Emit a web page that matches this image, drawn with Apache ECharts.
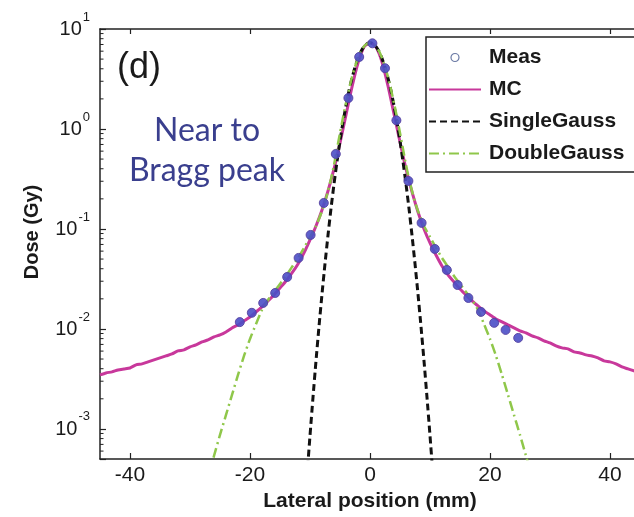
<!DOCTYPE html>
<html><head><meta charset="utf-8">
<script src="https://cdn.jsdelivr.net/npm/echarts@6/dist/echarts.min.js"></script>
<style>html,body{margin:0;padding:0;background:#fff}#c{width:634px;height:517px}</style>
</head><body><div id="c"></div>
<script>
// ---- data ----
const xTickValues = [-40, -20, 0, 20, 40];
const yMinorTicks = [0.0006,0.0007,0.0008,0.0009,
  0.002,0.003,0.004,0.005,0.006,0.007,0.008,0.009,
  0.02,0.03,0.04,0.05,0.06,0.07,0.08,0.09,
  0.2,0.3,0.4,0.5,0.6,0.7,0.8,0.9,
  2,3,4,5,6,7,8,9];

const measX = [-21.7,-19.7,-17.8,-15.8,-13.8,-11.9,-9.9,-7.7,-5.7,-3.6,-1.8,0.4,2.5,4.4,6.4,8.6,10.8,12.8,14.6,16.4,18.5,20.7,22.6,24.7];
const measY = [0.0117,0.0145,0.0182,0.0229,0.0331,0.0513,0.0871,0.182,0.562,2.04,5.25,7.19,4.05,1.22,0.302,0.115,0.0631,0.0389,0.0275,0.0204,0.0148,0.0115,0.00977,0.00813];

const mcX = [-45,-44,-43,-42,-41,-40,-39,-38,-37,-36,-35,-34,-33,-32,-31,-30,-29,-28,-27,-26,-25,-24,-23,-22,-21,-20,-19,-18,-17,-16,-15,-14,-13,-12,-11,-10,-9,-8,-7,-6,-5,-4,-3,-2,-1,0,1,2,3,4,5,6,7,8,9,10,11,12,13,14,15,16,17,18,19,20,21,22,23,24,25,26,27,28,29,30,31,32,33,34,35,36,37,38,39,40,41,42,43,44,45];
const mcY = [0.00347,0.00363,0.00372,0.00389,0.00398,0.00407,0.00437,0.00447,0.00468,0.00490,0.00513,0.00537,0.00562,0.00603,0.00617,0.00661,0.00692,0.00741,0.00776,0.00832,0.00871,0.00933,0.01023,0.01096,0.01202,0.01318,0.01479,0.01660,0.01905,0.02188,0.02570,0.03020,0.03631,0.04467,0.05754,0.07762,0.1072,0.1549,0.2399,0.3981,0.7244,1.380,2.630,4.571,6.607,7.33,6.607,4.677,2.692,1.413,0.7413,0.3981,0.2344,0.1479,0.1000,0.07244,0.05495,0.04266,0.03467,0.02951,0.02512,0.02188,0.01905,0.01698,0.01514,0.01380,0.01259,0.01175,0.01096,0.01023,0.00955,0.00912,0.00851,0.00813,0.00759,0.00724,0.00676,0.00646,0.00631,0.00589,0.00575,0.00550,0.00537,0.00513,0.00479,0.00468,0.00447,0.00417,0.00398,0.00380,0.00363];

const sgX = [-10.4,-10,-9.5,-9,-8.5,-8,-7.5,-7,-6.5,-6,-5.5,-5,-4.5,-4,-3.5,-3,-2.5,-2,-1.5,-1,-0.5,0,0.5,1,1.5,2,2.5,3,3.5,4,4.5,5,5.5,6,6.5,7,7.5,8,8.5,9,9.5,10,10.4];
const sgY = [0.00041,0.000857,0.00207,0.00479,0.01057,0.0223,0.0449,0.0865,0.160,0.281,0.472,0.759,1.167,1.71,2.41,3.23,4.14,5.08,5.96,6.67,7.13,7.30,7.13,6.67,5.96,5.08,4.14,3.23,2.41,1.71,1.167,0.759,0.472,0.281,0.160,0.0865,0.0449,0.0223,0.01057,0.00479,0.00207,0.000857,0.00041];

const dgX = [-27,-26,-25,-24,-23,-22,-21,-20,-19,-18,-17,-16,-15,-14,-13,-12,-11,-10,-9,-8,-7.5,-7,-6.5,-6,-5.5,-5,-4.5,-4,-3.5,-3,-2.5,-2,-1.5,-1,-0.5,0,0.5,1,1.5,2,2.5,3,3.5,4,4.5,5,5.5,6,6.5,7,7.5,8,9,10,11,12,13,14,15,16,17,18,19,20,21,22,23,24,25,26,27];
const dgY = [0.000331,0.000537,0.000871,0.00138,0.00219,0.00347,0.00537,0.00794,0.0112,0.0155,0.0195,0.0234,0.0282,0.0339,0.0417,0.0513,0.0646,0.0832,0.107,0.151,0.186,0.240,0.316,0.437,0.631,0.912,1.30,1.82,2.48,3.31,4.18,5.13,6.00,6.70,7.12,7.30,7.12,6.70,6.00,5.13,4.18,3.31,2.48,1.82,1.30,0.912,0.631,0.437,0.316,0.240,0.186,0.151,0.107,0.0832,0.0646,0.0513,0.0417,0.0339,0.0282,0.0234,0.0195,0.0155,0.0112,0.00794,0.00537,0.00347,0.00219,0.00138,0.000871,0.000537,0.000331];

// ---- chart ----
const FONT = 'Liberation Sans, Arial, sans-serif';
const pair = (xs, ys) => xs.map((x, i) => [x, ys[i]]);
const chart = echarts.init(document.getElementById('c'), null, {renderer: 'canvas'});
const hideSym = {opacity: 0};

const option = {
  animation: false,
  backgroundColor: '#fff',
  grid: {left: 100, top: 29, width: 540, height: 430, outerBoundsMode: 'none', containLabel: false},
  xAxis: [{
    type: 'value', min: -45, max: 45, position: 'bottom',
    axisLine: {onZero: false, lineStyle: {color: '#222', width: 1.5}},
    axisTick: {inside: true, length: 6, customValues: xTickValues, lineStyle: {color: '#222', width: 1.2}},
    axisLabel: {customValues: xTickValues, margin: 6, fontSize: 21, color: '#1a1a1a', fontFamily: FONT},
    splitLine: {show: false},
    name: 'Lateral position (mm)', nameLocation: 'middle', nameGap: 31,
    nameTextStyle: {fontSize: 21, fontWeight: 'bold', color: '#1a1a1a', fontFamily: FONT}
  }, {
    type: 'value', min: -45, max: 45, position: 'top',
    axisLine: {onZero: false, lineStyle: {color: '#222', width: 1.5}},
    axisTick: {inside: true, length: 5, customValues: xTickValues, lineStyle: {color: '#222', width: 1.2}},
    axisLabel: {show: false}, splitLine: {show: false}
  }],
  yAxis: [{
    type: 'log', min: 0.0005, max: 10, logBase: 10,
    axisLine: {show: true, onZero: false, lineStyle: {color: '#222', width: 1.5}},
    axisTick: {inside: true, length: 6, lineStyle: {color: '#222', width: 1.2}},
    splitLine: {show: false},
    axisLabel: {
      margin: 10, color: '#1a1a1a', fontFamily: FONT,
      formatter: function (v) {
        const l = Math.log10(v); const e = Math.round(l);
        if (Math.abs(l - e) > 1e-6) return '';
        return '{b|10}{s|' + e + '}';
      },
      rich: {
        b: {fontSize: 20, fontFamily: FONT, color: '#1a1a1a', verticalAlign: 'bottom', padding: [0, 0, 8, 0]},
        s: {fontSize: 13, fontFamily: FONT, color: '#1a1a1a', verticalAlign: 'bottom', padding: [0, 0, 24, 1]}
      }
    },
    name: 'Dose (Gy)', nameLocation: 'middle', nameGap: 58,
    nameTextStyle: {fontSize: 20, fontWeight: 'bold', color: '#1a1a1a', fontFamily: FONT, padding: [0, 0, 0, 24]}
  }],
  legend: {
    orient: 'vertical', left: 426, top: 37,
    padding: [10, 40, 8, 2], itemGap: 11, itemWidth: 52, itemHeight: 8,
    backgroundColor: '#fff', borderColor: '#222', borderWidth: 1.5,
    textStyle: {fontSize: 21, fontWeight: 'bold', color: '#1a1a1a', fontFamily: FONT, padding: [0, 0, 0, 3]},
    data: [
      {name: 'Meas', icon: 'circle', itemStyle: {color: '#ffffff', borderColor: '#5a6a9a', borderWidth: 1.2}},
      {name: 'MC', itemStyle: hideSym},
      {name: 'SingleGauss', itemStyle: hideSym},
      {name: 'DoubleGauss', itemStyle: hideSym}
    ]
  },
  graphic: [
    {type: 'text', left: 117, top: 50, style: {text: '(d)', fontSize: 36, fontFamily: FONT, fill: '#1a1a1a'}},
    {type: 'text', x: 207, y: 111, style: {text: 'Near to\nBragg peak', fontSize: 32, lineHeight: 40, fontFamily: 'Lato, Open Sans, sans-serif', fill: '#3a3f8e', align: 'center'}}
  ],
  series: [
    {name: 'MC', type: 'line', data: pair(mcX, mcY), symbol: 'none', showSymbol: false, smooth: 0.2,
      lineStyle: {color: '#c8389b', width: 3}, itemStyle: {color: '#c8389b'}, z: 2},
    {name: 'SingleGauss', type: 'line', data: pair(sgX, sgY), symbol: 'none', showSymbol: false, smooth: 0.2,
      lineStyle: {color: '#111', width: 3, type: [7, 4]}, itemStyle: {color: '#111'}, z: 3},
    {name: 'DoubleGauss', type: 'line', data: pair(dgX, dgY), symbol: 'none', showSymbol: false, smooth: 0.2,
      lineStyle: {color: '#8fc74a', width: 2.5, type: [10, 4, 2, 4]}, itemStyle: {color: '#8fc74a'}, z: 4},
    {name: 'Meas', type: 'scatter', data: pair(measX, measY), symbol: 'circle', symbolSize: 9,
      itemStyle: {color: '#4b4fc6', borderColor: '#5540a0', borderWidth: 1, opacity: 0.9}, z: 5},
    {type: 'custom', silent: true, data: yMinorTicks.map(v => [0, v]), z: 6,
      renderItem: function (params, api) {
        const y = api.coord([0, api.value(1)])[1];
        const x0 = params.coordSys.x;
        return {type: 'line', shape: {x1: x0, y1: y, x2: x0 + 3.5, y2: y}, style: {stroke: '#222', lineWidth: 1}};
      }}
  ]
};
chart.setOption(option);
</script>
</body></html>
